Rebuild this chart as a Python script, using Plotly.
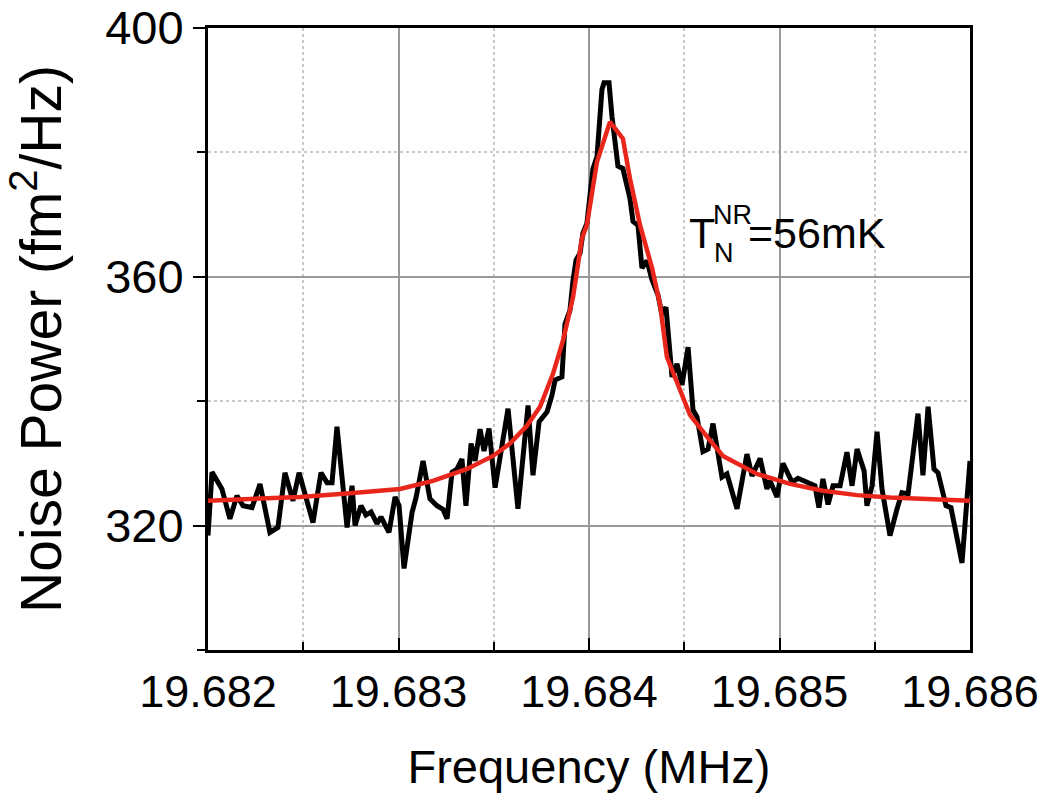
import plotly.graph_objects as go

# Measured noise spectrum (black)
freq_mhz = [
    19.682000, 19.682021, 19.682073, 19.682115, 19.682152, 19.682184, 19.682231, 19.682273,
    19.682325, 19.682367, 19.682404, 19.682446, 19.682478, 19.682551, 19.682593, 19.682625,
    19.682651, 19.682677, 19.682730, 19.682756, 19.682772, 19.682803, 19.682829, 19.682856,
    19.682887, 19.682908, 19.682950, 19.682982, 19.683003, 19.683029, 19.683071, 19.683092,
    19.683129, 19.683165, 19.683202, 19.683234, 19.683255, 19.683281, 19.683307, 19.683333,
    19.683354, 19.683381, 19.683402, 19.683428, 19.683449, 19.683475, 19.683507, 19.683575,
    19.683627, 19.683680, 19.683706, 19.683738, 19.683780, 19.683806, 19.683822, 19.683858,
    19.683874, 19.683900, 19.683916, 19.683932, 19.683953, 19.683968, 19.683989, 19.684021,
    19.684042, 19.684068, 19.684079, 19.684105, 19.684121, 19.684136, 19.684152, 19.684178,
    19.684215, 19.684231, 19.684257, 19.684278, 19.684304, 19.684331, 19.684362, 19.684383,
    19.684404, 19.684436, 19.684462, 19.684488, 19.684520, 19.684546, 19.684567, 19.684598,
    19.684625, 19.684651, 19.684698, 19.684724, 19.684777, 19.684829, 19.684856, 19.684898,
    19.684934, 19.684950, 19.684987, 19.685018, 19.685066, 19.685097, 19.685160, 19.685186,
    19.685207, 19.685228, 19.685255, 19.685281, 19.685318, 19.685354, 19.685381, 19.685407,
    19.685444, 19.685459, 19.685486, 19.685512, 19.685538, 19.685580, 19.685617, 19.685643,
    19.685675, 19.685727, 19.685753, 19.685780, 19.685811, 19.685832, 19.685874, 19.685900,
    19.685958, 19.686000,
]
noise_power = [
    318.4, 328.6, 325.9, 321.1, 324.8, 323.2, 322.9, 326.7,
    318.9, 319.7, 328.5, 324.0, 328.5, 320.5, 328.5, 326.9,
    326.9, 335.9, 319.7, 326.4, 320.0, 323.2, 321.7, 322.2,
    320.3, 321.4, 318.9, 324.6, 323.2, 313.1, 322.1, 324.5,
    330.4, 324.3, 323.2, 322.6, 321.1, 328.6, 329.1, 330.7,
    323.2, 333.2, 330.4, 335.5, 332.0, 335.6, 326.1, 338.8,
    322.7, 339.3, 328.1, 336.7, 338.3, 341.0, 343.4, 343.9,
    352.4, 354.6, 359.4, 362.7, 363.8, 367.0, 368.6, 377.4,
    379.3, 390.1, 391.2, 391.2, 385.7, 381.7, 377.8, 377.4,
    372.6, 368.9, 368.3, 361.4, 362.6, 359.5, 357.1, 353.9,
    355.1, 343.9, 346.0, 342.6, 348.7, 338.6, 337.5, 331.9,
    332.3, 336.4, 327.8, 328.3, 322.7, 331.5, 328.0, 330.8,
    325.9, 327.2, 324.6, 330.0, 327.0, 327.6, 326.9, 326.4,
    322.9, 327.5, 323.4, 326.4, 326.4, 331.8, 326.4, 332.3,
    328.8, 323.2, 326.4, 335.1, 325.9, 318.4, 322.7, 325.3,
    325.1, 338.0, 328.1, 339.1, 329.1, 328.5, 323.2, 322.9,
    314.0, 330.4,
]

# Lorentzian fit (red)
fit_freq_mhz = [
    19.682000, 19.682483, 19.682745, 19.683008, 19.683181, 19.683360, 19.683496, 19.683585,
    19.683675, 19.683743, 19.683811, 19.683864, 19.683916, 19.683963, 19.683989, 19.684042,
    19.684110, 19.684178, 19.684215, 19.684268, 19.684331, 19.684373, 19.684409, 19.684478,
    19.684530, 19.684619, 19.684703, 19.684882, 19.685055, 19.685228, 19.685407, 19.685580,
    19.685753, 19.686000,
]
fit_power = [
    324.0, 324.6, 325.2, 325.9, 327.2, 329.1, 331.2, 333.2,
    336.1, 339.1, 344.4, 349.8, 356.7, 366.2, 368.3, 378.5,
    384.9, 382.2, 375.8, 368.3, 361.4, 355.5, 347.1, 341.8,
    337.8, 334.3, 331.2, 328.3, 326.7, 325.6, 324.9, 324.5,
    324.3, 324.0,
]

x_tick_vals = [19.682, 19.683, 19.684, 19.685, 19.686]
x_tick_text = ["19.682", "19.683", "19.684", "19.685", "19.686"]
y_tick_vals = [320, 360, 400]

FONT = "Liberation Sans, Arial, sans-serif"

fig = go.Figure()
fig.add_trace(go.Scatter(x=freq_mhz, y=noise_power, mode="lines",
                         line=dict(color="black", width=5), showlegend=False))
fig.add_trace(go.Scatter(x=fit_freq_mhz, y=fit_power, mode="lines",
                         line=dict(color="#e8261c", width=4.5), showlegend=False))

fig.add_annotation(x=19.684514, y=367.1, xref="x", yref="y", text="T",
                   showarrow=False, xanchor="left", yanchor="middle",
                   font=dict(family=FONT, size=43, color="black"))
fig.add_annotation(x=19.684640, y=369.9, xref="x", yref="y", text="NR",
                   showarrow=False, xanchor="left", yanchor="middle",
                   font=dict(family=FONT, size=27, color="black"))
fig.add_annotation(x=19.684646, y=363.8, xref="x", yref="y", text="N",
                   showarrow=False, xanchor="left", yanchor="middle",
                   font=dict(family=FONT, size=27, color="black"))
fig.add_annotation(x=19.684825, y=367.1, xref="x", yref="y", text="=56mK",
                   showarrow=False, xanchor="left", yanchor="middle",
                   font=dict(family=FONT, size=43, color="black"))

fig.update_layout(
    width=1061, height=793,
    margin=dict(l=208, r=91, t=28, b=143),
    paper_bgcolor="white", plot_bgcolor="white",
    font=dict(family=FONT, color="black"),
    xaxis=dict(
        range=[19.682, 19.686], tickvals=x_tick_vals, ticktext=x_tick_text,
        showline=True, linecolor="black", linewidth=3, mirror=True,
        ticks="inside", ticklen=12, tickwidth=2, tickcolor="black",
        tickfont=dict(size=45), automargin=False,
        showgrid=True, gridcolor="#9a9a9a", gridwidth=1.5,
        minor=dict(dtick=0.0005, tick0=19.682, showgrid=True, gridcolor="#c8c8c8",
                   griddash="dot", gridwidth=1.5, ticks="inside", ticklen=8,
                   tickwidth=2, tickcolor="black"),
        title=dict(text="Frequency (MHz)", font=dict(size=47), standoff=38),
        zeroline=False,
    ),
    yaxis=dict(
        range=[300, 400], tickvals=y_tick_vals,
        showline=True, linecolor="black", linewidth=3, mirror=True,
        ticks="outside", ticklen=12, tickwidth=2, tickcolor="black",
        tickfont=dict(size=47), automargin=False,
        showgrid=True, gridcolor="#9a9a9a", gridwidth=1.5,
        minor=dict(dtick=20, tick0=300, showgrid=True, gridcolor="#c8c8c8",
                   griddash="dot", gridwidth=1.5, ticks="outside", ticklen=8,
                   tickwidth=2, tickcolor="black"),
        title=dict(text="Noise Power (fm<sup>2</sup>/Hz)", font=dict(size=57), standoff=26),
        zeroline=False,
    ),
)

fig.write_html("out.html")
